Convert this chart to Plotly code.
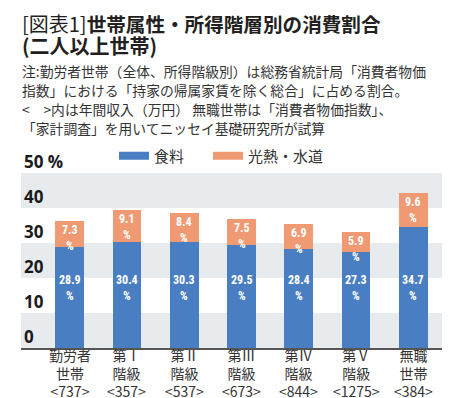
import plotly.graph_objects as go

categories = ["勤労者<br>世帯<br>&lt;737&gt;", "第Ⅰ<br>階級<br>&lt;357&gt;", "第Ⅱ<br>階級<br>&lt;537&gt;",
              "第Ⅲ<br>階級<br>&lt;673&gt;", "第Ⅳ<br>階級<br>&lt;844&gt;", "第Ⅴ<br>階級<br>&lt;1275&gt;",
              "無職<br>世帯<br>&lt;384&gt;"]
food = [28.9, 30.4, 30.3, 29.5, 28.4, 27.3, 34.7]
utilities = [7.3, 9.1, 8.4, 7.5, 6.9, 5.9, 9.6]
series_names = ["食料", "光熱・水道"]
y_tickvals = [0, 10, 20, 30, 40, 50]
y_ticktext = ["0", "10", "20", "30", "40", "50 %"]

BLUE = "#4a7ec3"
ORANGE = "#f09a74"
BAND = "#e8ebee"
JP = "Noto Sans CJK JP"
NUM = "Roboto Condensed, Liberation Sans Narrow, DejaVu Sans Condensed, Roboto, sans-serif"

xs = list(range(len(categories)))
totals = [f + u for f, u in zip(food, utilities)]

fig = go.Figure()
fig.add_trace(go.Bar(x=xs, y=food, marker_color=BLUE, width=0.5, showlegend=False,
                     marker_line_width=0, hoverinfo="skip"))
fig.add_trace(go.Bar(x=xs, y=utilities, marker_color=ORANGE, width=0.5, showlegend=False,
                     marker_line_width=0, hoverinfo="skip"))
# legend entries
fig.add_trace(go.Scatter(x=[None], y=[None], mode="lines", name=series_names[0],
                         line=dict(color=BLUE, width=8), legend="legend"))
fig.add_trace(go.Scatter(x=[None], y=[None], mode="lines", name=series_names[1],
                         line=dict(color=ORANGE, width=8), legend="legend2"))

shapes = []
for lo in (0, 20, 40):
    shapes.append(dict(type="rect", xref="paper", yref="y", x0=0, x1=1, y0=lo, y1=lo + 10,
                       fillcolor=BAND, line_width=0, layer="below"))

annotations = []
lblfont = dict(family=NUM, size=12, color="white", weight="bold")
for i in xs:
    annotations.append(dict(x=i, y=20, text=f"{food[i]}<br>%", showarrow=False,
                            yanchor="middle", yshift=-10, font=lblfont))
    annotations.append(dict(x=i, y=totals[i], text=f"{utilities[i]}<br>%", showarrow=False,
                            yanchor="top", yshift=0, font=lblfont))
    # category labels under the axis
    annotations.append(dict(x=i, y=0, text=categories[i], showarrow=False, yanchor="top",
                            yshift=5, font=dict(family=JP, size=14, color="#333333")))

# y-axis labels sit just above their gridline, at the left edge of the plot
for v, t in zip(y_tickvals, y_ticktext):
    annotations.append(dict(xref="paper", x=0, y=v, text=t, showarrow=False, xanchor="left",
                            yanchor="bottom", xshift=1, yshift=-2,
                            font=dict(family="Open Sans, Noto Sans, sans-serif", size=17,
                                      color="#1a1a1a", weight="bold")))

# plot area: x 13..434 px, y 0 -> 340 px, 50 -> 165 px
PL, PR, PT, PB = 13, 16, 165, 58
PH = 398 - PT - PB
PW = 450 - PL - PR
def py(px):
    return (340 - px) / PH
def pxx(px):
    return (px - PL) / PW

annotations.append(dict(xref="paper", yref="paper", x=pxx(12), y=py(15), xanchor="left",
                        yanchor="middle", showarrow=False,
                        text="[図表1]<b><span style='font-size:19.6px'>世帯属性・所得階層別の消費割合</span></b>",
                        font=dict(family=JP, size=20, color="#231f20")))
annotations.append(dict(xref="paper", yref="paper", x=pxx(12), y=py(38), xanchor="left",
                        yanchor="middle", showarrow=False, text="<b>(二人以上世帯)</b>",
                        font=dict(family=JP, size=20, color="#231f20")))
notes = ["注:勤労者世帯（全体、所得階級別）は総務省統計局「消費者物価",
         "指数」における「持家の帰属家賃を除く総合」に占める割合。",
         "<　>内は年間収入（万円） 無職世帯は「消費者物価指数」、",
         "「家計調査」を用いてニッセイ基礎研究所が試算"]
notes = [t.replace("<", "&lt;").replace(">", "&gt;") for t in notes]
for t, ypx in zip(notes, [63.3, 82.3, 101.3, 120.3]):
    annotations.append(dict(xref="paper", yref="paper", x=pxx(12), y=py(ypx), xanchor="left",
                            yanchor="middle", showarrow=False, text=t,
                            font=dict(family=JP, size=13.8, color="#333333")))

legfont = dict(family=JP, size=15, color="#333333")
fig.update_layout(
    width=450, height=398,
    margin=dict(l=PL, r=PR, t=PT, b=PB, autoexpand=False),
    paper_bgcolor="white", plot_bgcolor="white",
    barmode="stack",
    shapes=shapes, annotations=annotations,
    showlegend=True,
    legend=dict(orientation="h", x=pxx(106), xanchor="left", y=py(148), yanchor="middle",
                font=legfont, bgcolor="rgba(0,0,0,0)", itemwidth=30),
    legend2=dict(orientation="h", x=pxx(200), xanchor="left", y=py(148), yanchor="middle",
                 font=legfont, bgcolor="rgba(0,0,0,0)", itemwidth=30),
    xaxis=dict(range=[-0.85, 6.5], tickvals=xs, showticklabels=False, showgrid=False,
               zeroline=False, showline=True, linecolor="#555555", linewidth=1.5,
               ticks="", fixedrange=True, automargin=False),
    yaxis=dict(range=[0, 50], tickvals=y_tickvals, showticklabels=False, showgrid=False,
               zeroline=False, showline=False, ticks="", fixedrange=True, automargin=False),
)

fig.write_html("out.html")
